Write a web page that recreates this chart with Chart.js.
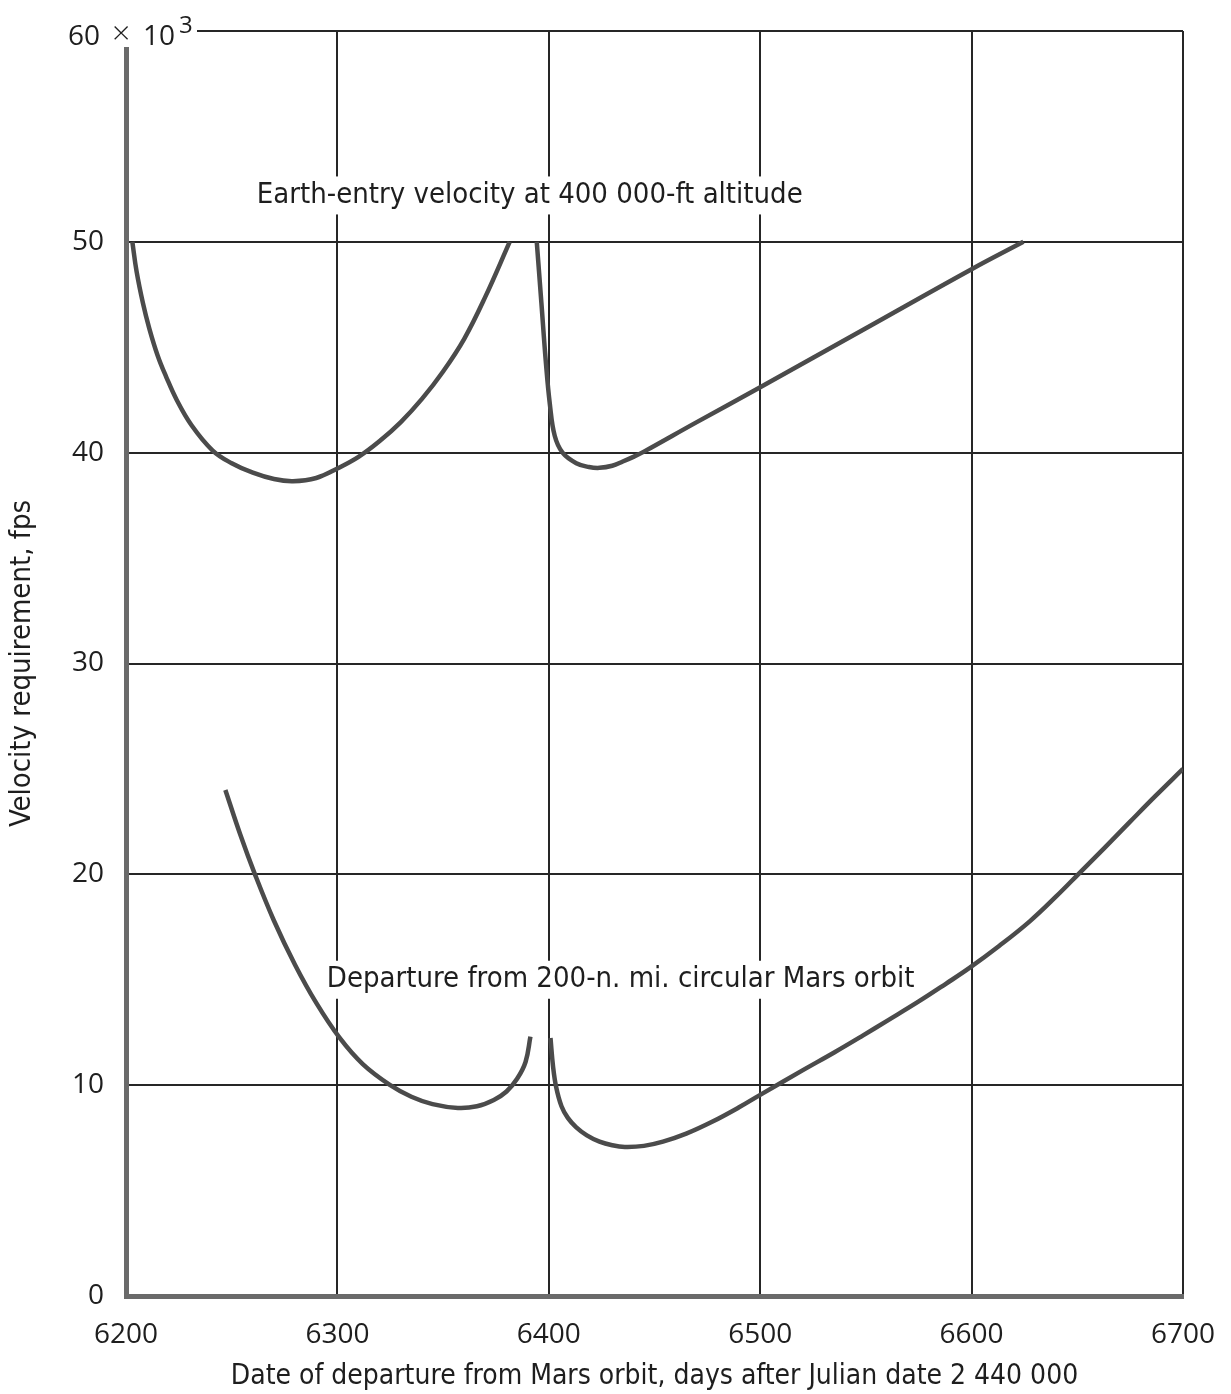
<!DOCTYPE html>
<html>
<head>
<meta charset="utf-8">
<script src="https://cdn.jsdelivr.net/npm/chart.js@4"></script>
<style>
    body { margin: 0; background: #fff; }
    #wrap { width: 1231px; height: 1394px; position: relative; }
</style>
</head>
<body>
<div id="wrap"><canvas id="chart"></canvas></div>
<script>
// days after Julian date 2 440 000, velocities in thousands of fps
const earthDaysA = [6203, 6205, 6208, 6211, 6215, 6219, 6224, 6231, 6241, 6250, 6260, 6270, 6279, 6290, 6300, 6310, 6320, 6330, 6340, 6350, 6360, 6370, 6381.5];
const earthVelA = [50.0, 48.6, 47.1, 45.9, 44.6, 43.6, 42.5, 41.3, 40.1, 39.5, 39.05, 38.75, 38.65, 38.8, 39.25, 39.8, 40.55, 41.45, 42.55, 43.85, 45.4, 47.4, 50.0];

const earthDaysB = [6394.3, 6396.5, 6398.6, 6400.5, 6402.8, 6406.5, 6413, 6419, 6424, 6430, 6435, 6440, 6445, 6470, 6500, 6550, 6600, 6624.5];
const earthVelB = [50.0, 47.1, 44.3, 42.3, 40.8, 40.0, 39.5, 39.32, 39.28, 39.38, 39.58, 39.8, 40.05, 41.45, 43.1, 45.9, 48.7, 50.0];

const departDaysA = [6247, 6254, 6261, 6270, 6280, 6290, 6301, 6312, 6325, 6335, 6345, 6357, 6366, 6374, 6380, 6385, 6389, 6391.3];
const departVelA = [24.0, 21.9, 20.0, 17.8, 15.7, 13.9, 12.25, 11.0, 10.0, 9.45, 9.1, 8.92, 9.0, 9.3, 9.7, 10.3, 11.1, 12.3];

const departDaysB = [6400.8, 6402, 6403.5, 6406, 6409, 6413, 6418, 6424, 6430, 6436, 6445, 6454, 6465, 6477, 6490, 6501, 6520, 6535, 6548.5, 6560, 6575, 6588, 6599, 6613, 6627.5, 6640, 6651, 6663, 6675, 6687, 6700];
const departVelB = [12.24, 10.9, 9.9, 9.0, 8.45, 8.0, 7.62, 7.32, 7.15, 7.07, 7.12, 7.32, 7.7, 8.25, 8.95, 9.6, 10.7, 11.55, 12.35, 13.05, 13.97, 14.82, 15.56, 16.6, 17.77, 18.95, 20.06, 21.27, 22.5, 23.72, 25.0];

const xTicks = [6200, 6300, 6400, 6500, 6600, 6700];
const yTicks = [0, 10, 20, 30, 40, 50, 60];

const curveLabels = ["Earth-entry velocity at 400 000-ft altitude", "Departure from 200-n. mi. circular Mars orbit"];
const curveLabelDays = [6391, 6434];
const curveLabelVel = [52.2, 15.0];

const xTitle = "Date of departure from Mars orbit, days after Julian date 2 440 000";
const yTitle = "Velocity requirement, fps";

const tickFont = { family: "'Open Sans', sans-serif", size: 28 };
const textFamily = "'DejaVu Sans Condensed', 'DejaVu Sans', sans-serif";
const inkColor = "#1e1e1e";
const curveColor = "#4b4b4b";
const gridColor = "#262626";

function toPoints(days, vel) {
    return days.map((d, i) => ({ x: d, y: vel[i] }));
}

function curve(days, vel) {
    return {
        data: toPoints(days, vel),
        borderColor: curveColor,
        borderWidth: 4.5,
        pointRadius: 0,
        fill: false,
        tension: 0.4
    };
}

// keep the plot frame where the layout padding puts it
function noEdgePadding(axis) {
    axis.paddingTop = 0;
    axis.paddingBottom = 0;
    axis.paddingLeft = 0;
    axis.paddingRight = 0;
}

// captions with a white box behind them, plus the "60 x 10^3" top tick
const captionPlugin = {
    id: "captions",
    beforeDatasetsDraw(chart) {
        let ctx = chart.ctx;
        let xs = chart.scales.x;
        let ys = chart.scales.y;
        ctx.save();
        ctx.font = "29px " + textFamily;
        ctx.textAlign = "center";
        ctx.textBaseline = "middle";
        curveLabels.forEach((txt, i) => {
            let px = xs.getPixelForValue(curveLabelDays[i]);
            let py = ys.getPixelForValue(curveLabelVel[i]);
            let w = ctx.measureText(txt).width;
            ctx.fillStyle = "#fff";
            ctx.fillRect(px - w / 2 - 6, py - 19, w + 12, 38);
            ctx.fillStyle = inkColor;
            ctx.fillText(txt, px, py);
        });

        // top tick label sits over the corner of the frame
        let top = ys.getPixelForValue(yTicks[yTicks.length - 1]);
        let left = xs.getPixelForValue(xTicks[0]);
        let fam = tickFont.family;
        ctx.fillStyle = "#fff";
        ctx.fillRect(left - 66, top - 24, 137, 40);
        ctx.fillStyle = inkColor;
        ctx.textAlign = "left";
        ctx.textBaseline = "alphabetic";
        ctx.font = "28px " + fam;
        ctx.fillText(String(yTicks[yTicks.length - 1]), left - 58, top + 14);
        ctx.fillText("10", left + 17, top + 14);
        ctx.font = "300 32px " + fam;
        ctx.fillText("\u00d7", left - 14, top + 13);
        ctx.font = "24px " + fam;
        ctx.fillText("3", left + 53, top + 2);
        ctx.restore();
    }
};

let ctx = document.getElementById("chart").getContext("2d");

new Chart(ctx, {
    type: "line",
    data: {
        datasets: [
            curve(earthDaysA, earthVelA),
            curve(earthDaysB, earthVelB),
            curve(departDaysA, departVelA),
            curve(departDaysB, departVelB)
        ]
    },
    options: {
        responsive: true,
        maintainAspectRatio: false,
        animation: false,
        layout: { padding: { top: 31, right: 48, left: 0, bottom: 0 } },
        plugins: {
            legend: { display: false },
            tooltip: { enabled: false }
        },
        scales: {
            x: {
                type: "linear",
                min: xTicks[0],
                max: xTicks[xTicks.length - 1],
                afterBuildTicks: axis => { axis.ticks = xTicks.map(v => ({ value: v })); },
                afterFit: axis => { axis.height = 98; noEdgePadding(axis); },
                grid: { color: gridColor, lineWidth: 2, drawTicks: false },
                border: { color: "#6a6a6a", width: 5 },
                ticks: { font: tickFont, color: inkColor, padding: 22, maxRotation: 0, callback: v => String(v) },
                title: {
                    display: true,
                    text: xTitle,
                    font: { family: textFamily, size: 28 },
                    color: inkColor,
                    padding: { top: 0, bottom: 0 }
                }
            },
            y: {
                min: yTicks[0],
                max: yTicks[yTicks.length - 1],
                afterBuildTicks: axis => { axis.ticks = yTicks.map(v => ({ value: v })); },
                afterFit: axis => { axis.width = 126; noEdgePadding(axis); },
                grid: { color: gridColor, lineWidth: 2, drawTicks: false },
                border: { color: "#6a6a6a", width: 5 },
                ticks: {
                    font: tickFont,
                    color: inkColor,
                    padding: 22,
                    callback: v => (v === yTicks[yTicks.length - 1] ? "" : String(v))
                },
                title: {
                    display: true,
                    text: yTitle,
                    font: { family: textFamily, size: 29 },
                    color: inkColor,
                    padding: { top: 5, bottom: 0 }
                }
            }
        }
    },
    plugins: [captionPlugin]
});
</script>
</body>
</html>
